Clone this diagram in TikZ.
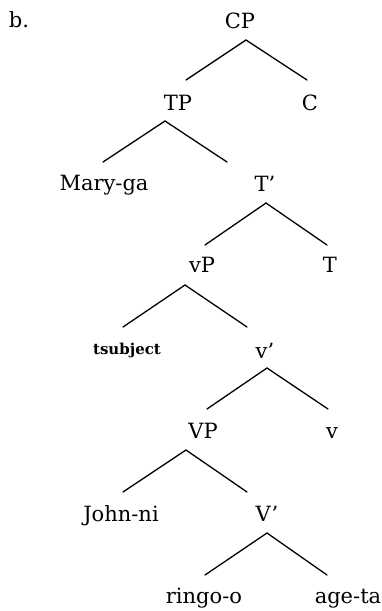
\documentclass[tikz,border=0pt]{standalone}
\usepackage{fontspec}
\setmainfont{DejaVu Serif}
\begin{document}
\begin{tikzpicture}[x=1pt,y=-1pt,
  lbl/.style={anchor=base,inner sep=0pt,font=\fontsize{21}{25}\selectfont},
  small/.style={anchor=base,inner sep=0pt,font=\fontsize{15}{18}\selectfont\bfseries},
  edge/.style={line width=1.3pt,line cap=round}]
\useasboundingbox (0,0) rectangle (382,611);
% nodes
\node[lbl] (b) at (19,27) {b.};
\node[lbl] (CP) at (240,28) {CP};
\node[lbl] (TP) at (178,110) {TP};
\node[lbl] (C) at (310,110) {C};
\node[lbl] (Mary) at (104,190) {Mary-ga};
\node[lbl] (Tbar) at (265,191) {T'};
\node[lbl] (vP) at (202,272) {vP};
\node[lbl] (T) at (330,272) {T};
\node[small] (tsub) at (127,354) {tsubject};
\node[lbl] (vbar) at (265,358) {v'};
\node[lbl] (VP) at (203,438) {VP};
\node[lbl] (v) at (332,438) {v};
\node[lbl] (John) at (121,521) {John-ni};
\node[lbl] (Vbar) at (267,521) {V'};
\node[lbl] (ringo) at (204,603) {ringo-o};
\node[lbl] (age) at (348,603) {age-ta};
% attachment points
\coordinate (CP-a) at (246,40);
\coordinate (TP-t) at (186,80);
\coordinate (C-t) at (307,80);
\coordinate (TP-a) at (165,121);
\coordinate (Mary-t) at (103,162);
\coordinate (Tbar-t) at (227,162);
\coordinate (Tbar-a) at (266,203);
\coordinate (vP-t) at (205,245);
\coordinate (T-t) at (327,245);
\coordinate (vP-a) at (185,285);
\coordinate (tsub-t) at (123,327);
\coordinate (vbar-t) at (247,327);
\coordinate (vbar-a) at (267,368);
\coordinate (VP-t) at (207,409);
\coordinate (v-t) at (328,409);
\coordinate (VP-a) at (186,450);
\coordinate (John-t) at (123,492);
\coordinate (Vbar-t) at (247,492);
\coordinate (Vbar-a) at (267,533);
\coordinate (ringo-t) at (205,575);
\coordinate (age-t) at (327,575);
% edges
\draw[edge] (TP-t) -- (CP-a) -- (C-t);
\draw[edge] (Mary-t) -- (TP-a) -- (Tbar-t);
\draw[edge] (vP-t) -- (Tbar-a) -- (T-t);
\draw[edge] (tsub-t) -- (vP-a) -- (vbar-t);
\draw[edge] (VP-t) -- (vbar-a) -- (v-t);
\draw[edge] (John-t) -- (VP-a) -- (Vbar-t);
\draw[edge] (ringo-t) -- (Vbar-a) -- (age-t);
\end{tikzpicture}
\end{document}
